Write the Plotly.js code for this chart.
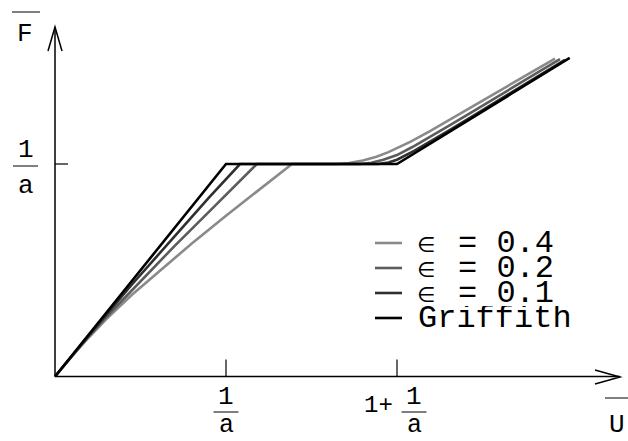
<!DOCTYPE html>
<html>
<head>
<meta charset="utf-8">
<script src="https://cdn.plot.ly/plotly-3.0.1.min.js"></script>
<style>html,body{margin:0;padding:0;background:#fff;}#plot{width:628px;height:441px;}</style>
</head>
<body>
<div id="plot"></div>
<script>
// ---- data (units: 1/a = 1) ----
const seriesSymbol = ["∈", "∈", "∈", ""];
const seriesNames = ["= 0.4", "= 0.2", "= 0.1", "Griffith"];
const seriesColors = ["#8a8a8a", "#5c5c5c", "#2f2f2f", "#000000"];

const eps04_U = [0, 0.1, 0.2, 0.3, 0.45, 0.6, 0.8, 1.0, 1.2, 1.386, 1.649, 1.72, 1.8, 1.88, 1.95, 2.0, 2.08, 2.193, 2.3, 2.45, 2.6, 2.75, 2.924];
const eps04_F = [0, 0.096, 0.186, 0.27, 0.385, 0.49, 0.626, 0.757, 0.882, 1.0, 1.0, 1.004, 1.016, 1.034, 1.056, 1.074, 1.105, 1.155, 1.205, 1.275, 1.345, 1.415, 1.496];

const eps02_U = [0, 0.15, 0.3, 0.5, 0.7, 0.9, 1.05, 1.181, 1.784, 1.85, 1.92, 2.0, 2.09, 2.193, 2.3, 2.45, 2.6, 2.75, 2.953];
const eps02_F = [0, 0.145, 0.28, 0.45, 0.615, 0.775, 0.895, 1.0, 1.0, 1.006, 1.02, 1.042, 1.08, 1.127, 1.178, 1.25, 1.322, 1.394, 1.494];

const eps01_U = [0, 0.2, 0.45, 0.7, 0.9, 1.082, 1.889, 1.95, 2.0, 2.1, 2.193, 2.3, 2.45, 2.6, 2.75, 2.982];
const eps01_F = [0, 0.196, 0.433, 0.662, 0.842, 1.0, 1.0, 1.007, 1.02, 1.062, 1.105, 1.156, 1.229, 1.302, 1.375, 1.49];

const griffith_U = [0, 1, 2, 3.01];
const griffith_F = [0, 1, 1, 1.499];

const xTickVals = [1, 2];          // 1/a , 1 + 1/a
const xTickPrefix = ["", "1+"];
const yTickVals = [1];             // 1/a
const fracNum = "1", fracDen = "a";
const xAxisLabel = "U", yAxisLabel = "F";

// ---- layout helpers (pixel <-> data for decorations) ----
const X0 = 55, XS = 171, Y0 = 376.5, YS = 212.5;
const X = px => (px - X0) / XS;
const Y = py => (Y0 - py) / YS;

const FONT = "Liberation Mono, DejaVu Sans Mono, monospace";
const allU = [eps04_U, eps02_U, eps01_U, griffith_U];
const allF = [eps04_F, eps02_F, eps01_F, griffith_F];

const traces = allU.map((u, i) => ({
  x: u, y: allF[i], type: "scatter", mode: "lines", name: (seriesSymbol[i] + " " + seriesNames[i]).trim(),
  line: {color: seriesColors[i], width: 2.6}, showlegend: false, hoverinfo: "skip"
}));

const shapes = [];
const annotations = [];
const blk = {color: "#000", width: 1.5};
// axes with open arrowheads
shapes.push({type: "line", xref: "x", yref: "y", x0: 0, y0: 0, x1: X(620), y1: 0, line: blk});
shapes.push({type: "path", xref: "x", yref: "y", path: `M ${X(595)} ${Y(370)} L ${X(620)} ${Y(377)} L ${X(595)} ${Y(384)}`, line: blk});
shapes.push({type: "line", xref: "x", yref: "y", x0: 0, y0: 0, x1: 0, y1: Y(27), line: blk});
shapes.push({type: "path", xref: "x", yref: "y", path: `M ${X(48)} ${Y(51)} L ${X(55)} ${Y(27)} L ${X(62)} ${Y(51)}`, line: blk});

// x ticks
xTickVals.forEach((v, i) => {
  shapes.push({type: "line", xref: "x", yref: "y", x0: v, x1: v, y0: 0, y1: 17 / YS, line: {color: "#000", width: 1.2}});
  const off = i === 0 ? 0 : 17;
  const cx = v + off / XS;
  shapes.push({type: "line", xref: "x", yref: "y", x0: cx - 12.5 / XS, x1: cx + 12.5 / XS, y0: Y(412), y1: Y(412), line: {color: "#000", width: 1}});
  annotations.push({x: cx, y: Y(397), xref: "x", yref: "y", text: fracNum, showarrow: false, xanchor: "center", yanchor: "middle", font: {family: FONT, size: 26, color: "#000"}});
  annotations.push({x: cx, y: Y(425), xref: "x", yref: "y", text: fracDen, showarrow: false, xanchor: "center", yanchor: "middle", font: {family: FONT, size: 25, color: "#000"}});
  if (xTickPrefix[i]) {
    annotations.push({x: v - 19 / XS, y: Y(405), xref: "x", yref: "y", text: xTickPrefix[i], showarrow: false, xanchor: "center", yanchor: "middle", font: {family: FONT, size: 24, color: "#000"}});
  }
});
// y ticks
yTickVals.forEach(v => {
  shapes.push({type: "line", xref: "x", yref: "y", x0: 0, x1: 13 / XS, y0: v, y1: v, line: {color: "#000", width: 1.2}});
  shapes.push({type: "line", xref: "x", yref: "y", x0: X(13), x1: X(38), y0: v - 2 / YS, y1: v - 2 / YS, line: {color: "#000", width: 1}});
  annotations.push({x: X(26), y: v + 14 / YS, xref: "x", yref: "y", text: fracNum, showarrow: false, xanchor: "center", yanchor: "middle", font: {family: FONT, size: 26, color: "#000"}});
  annotations.push({x: X(26), y: v - 22 / YS, xref: "x", yref: "y", text: fracDen, showarrow: false, xanchor: "center", yanchor: "middle", font: {family: FONT, size: 26, color: "#000"}});
});
// axis labels with overline
shapes.push({type: "line", xref: "x", yref: "y", x0: X(12), x1: X(40), y0: Y(12), y1: Y(12), line: {color: "#000", width: 1}});
annotations.push({x: X(25), y: Y(34), xref: "x", yref: "y", text: yAxisLabel, showarrow: false, xanchor: "center", yanchor: "middle", font: {family: FONT, size: 26, color: "#000"}});
shapes.push({type: "line", xref: "x", yref: "y", x0: X(605), x1: X(630), y0: Y(398), y1: Y(398), line: {color: "#000", width: 1}});
annotations.push({x: X(617), y: Y(425), xref: "x", yref: "y", text: xAxisLabel, showarrow: false, xanchor: "center", yanchor: "middle", font: {family: FONT, size: 26, color: "#000"}});

// custom legend (boxes kept to row height so rows don't overlap)
const rows = [243, 268, 293, 318];
const rowH = 24;
seriesNames.forEach((n, i) => {
  shapes.push({type: "line", xref: "x", yref: "y", x0: X(375), x1: X(402), y0: Y(rows[i]), y1: Y(rows[i]), line: {color: seriesColors[i], width: 2.6}});
  if (seriesSymbol[i]) {
    annotations.push({x: X(426), y: Y(rows[i] + 2), xref: "x", yref: "y", text: seriesSymbol[i], showarrow: false, xanchor: "center", yanchor: "middle", height: 20, font: {family: "DejaVu Sans", size: 21, color: "#000"}});
    annotations.push({x: X(456), y: Y(rows[i]), xref: "x", yref: "y", text: n, showarrow: false, xanchor: "left", yanchor: "middle", height: rowH, font: {family: FONT, size: 32, color: "#000"}});
  } else {
    annotations.push({x: X(416), y: Y(rows[i]), xref: "x", yref: "y", text: n, showarrow: false, xanchor: "left", yanchor: "middle", height: rowH, font: {family: FONT, size: 32, color: "#000"}});
  }
});

const layout = {
  width: 628, height: 441,
  margin: {l: 0, r: 0, t: 0, b: 0},
  paper_bgcolor: "#fff", plot_bgcolor: "#fff",
  xaxis: {range: [X(0), X(628)], visible: false, fixedrange: true},
  yaxis: {range: [Y(441), Y(0)], visible: false, fixedrange: true},
  shapes: shapes, annotations: annotations, showlegend: false
};
Plotly.newPlot("plot", traces, layout, {staticPlot: true, displayModeBar: false});
</script>
</body>
</html>
